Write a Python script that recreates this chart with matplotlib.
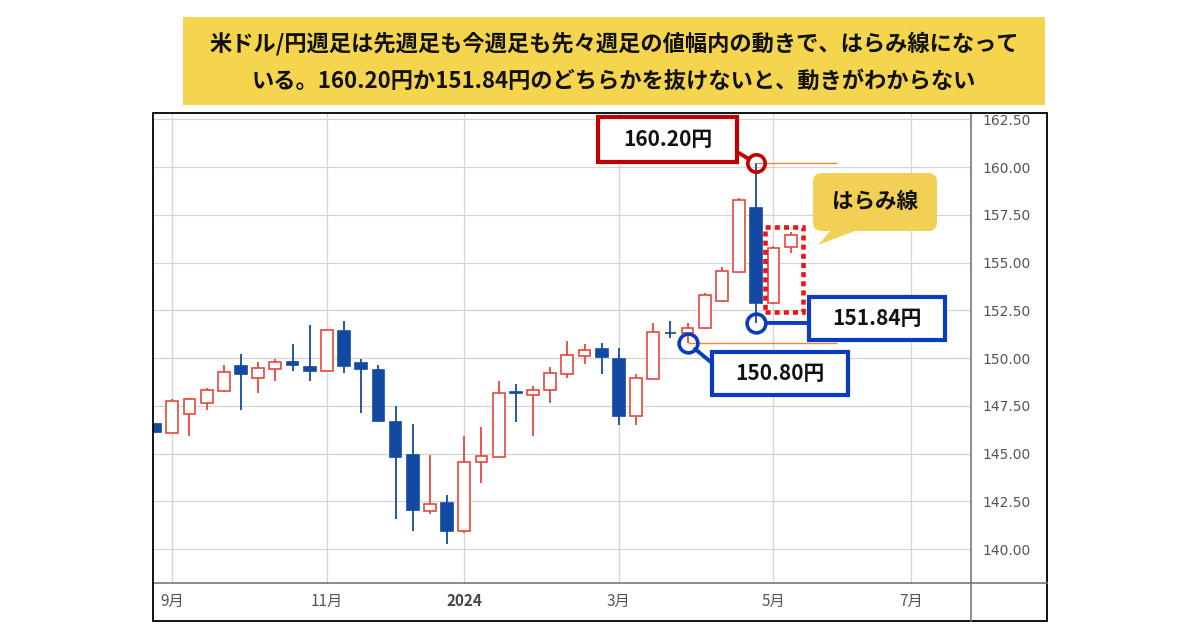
import numpy as np
import pandas as pd
import matplotlib
matplotlib.use("Agg")
import matplotlib.pyplot as plt
import matplotlib.dates as mdates
from matplotlib.patches import Rectangle, FancyBboxPatch, Polygon, ConnectionPatch
from matplotlib.lines import Line2D
from matplotlib.transforms import Bbox, TransformedBbox

plt.rcParams['font.family'] = ['Noto Sans CJK JP', 'DejaVu Sans']

# weekly USD/JPY candles (Monday of each week)
weeks = pd.date_range('2023-08-28', periods=38, freq='W-MON')
opens = [146.52, 146.07, 147.08, 147.67, 148.25, 149.58, 148.97, 149.41, 149.79, 149.53,
         149.32, 151.42, 149.74, 149.35, 146.66, 144.91, 141.98, 142.40, 140.96, 144.53,
         144.84, 148.20, 148.09, 148.30, 149.18, 150.09, 150.45, 149.93, 146.94, 148.90,
         151.33, 151.33, 151.57, 153.00, 154.49, 157.87, 152.87, 155.80]
highs = [146.60, 147.83, 147.92, 148.43, 149.65, 150.19, 149.79, 149.93, 150.75, 151.71,
         151.54, 151.92, 149.93, 149.65, 147.47, 146.52, 144.91, 142.81, 145.94, 146.38,
         148.78, 148.65, 148.55, 149.53, 150.89, 150.75, 150.80, 150.52, 149.14, 151.84,
         151.96, 151.84, 153.39, 154.79, 158.39, 160.20, 155.89, 156.59]
lows = [146.05, 146.05, 145.91, 147.29, 148.20, 147.29, 148.16, 148.81, 149.32, 148.81,
        149.30, 149.21, 147.12, 146.63, 141.59, 140.96, 141.84, 140.26, 140.82, 143.44,
        144.80, 146.63, 145.91, 147.64, 148.97, 149.70, 149.18, 146.47, 146.47, 148.88,
        151.07, 150.80, 151.50, 152.95, 154.45, 151.84, 152.85, 155.49]
closes = [146.12, 147.74, 147.83, 148.34, 149.28, 149.18, 149.49, 149.79, 149.62, 149.32,
          151.49, 149.56, 149.41, 146.70, 144.81, 142.05, 142.36, 140.96, 144.55, 144.86,
          148.18, 148.15, 148.34, 149.21, 150.16, 150.44, 150.05, 146.99, 148.97, 151.38,
          151.30, 151.59, 153.30, 154.58, 158.29, 152.87, 155.75, 156.45]

y_ticks = [140.0, 142.5, 145.0, 147.5, 150.0, 152.5, 155.0, 157.5, 160.0, 162.5]
month_ticks = ['2023-09-04', '2023-11-06', '2024-01-01', '2024-03-04', '2024-05-06', '2024-07-01']
month_labels = ['9月', '11月', '2024', '3月', '5月', '7月']

title_lines = ['米ドル/円週足は先週足も今週足も先々週足の値幅内の動きで、はらみ線になって',
               'いる。160.20円か151.84円のどちらかを抜けないと、動きがわからない']
peak_idx = 35      # 160.20 high / 151.84 low week
support_idx = 31   # 150.80 low week
line_end = '2024-06-01'

UP = '#E8473F'
DOWN = '#1249A3'
RED = '#C00000'
BLUE = '#0B3BBE'
YELLOW = '#F5D54E'

fig = plt.figure(figsize=(12, 6.3), dpi=100)
W, H = 1200, 630


def fx(x):
    return x / W


def fy(y):
    return 1 - y / H


def P(x, y):
    # pixel -> inches for fig.dpi_scale_trans
    return x / 100, (H - y) / 100


px = fig.dpi_scale_trans

# banner
fig.add_artist(Rectangle(P(183, 105), 8.62, 0.88, transform=px, fc=YELLOW, ec='none'))
fig.text(*P(614, 44), title_lines[0], transform=px, ha='center', va='center',
         fontsize=16, fontweight='bold', color='#111111')
fig.text(*P(614, 81), title_lines[1], transform=px, ha='center', va='center',
         fontsize=16, fontweight='bold', color='#111111')

ax = fig.add_axes([fx(153), fy(583), fx(971) - fx(153), fy(113) - fy(583)])

x = mdates.date2num(weeks)
o = np.array(opens)
h = np.array(highs)
l = np.array(lows)
c = np.array(closes)
up = c >= o
colors = np.where(up, UP, DOWN)

ax.vlines(x, l, h, colors=colors, linewidth=1.3, zorder=2)
ax.bar(x, np.abs(c - o), bottom=np.minimum(o, c), width=4.8,
       color=np.where(up, 'white', DOWN), edgecolor=colors, linewidth=1.2, zorder=3)

ax.set_xlim(mdates.date2num(pd.Timestamp('2023-08-27 03:00')),
            mdates.date2num(pd.Timestamp('2024-07-25 12:00')))
ax.set_ylim(138.22, 162.83)

ax.set_yticks(y_ticks)
ax.set_yticklabels([f'{v:.2f}' for v in y_ticks])
ax.set_xticks(mdates.date2num(pd.to_datetime(month_ticks)))
ax.set_xticklabels(month_labels)
ax.yaxis.tick_right()
ax.tick_params(axis='y', length=0, pad=8.4, labelsize=10, labelcolor='#555555')
ax.tick_params(axis='x', length=0, pad=7, labelsize=11, labelcolor='#555555')
clip = TransformedBbox(Bbox([[fx(971), fy(621)], [fx(1047), fy(114)]]), fig.transFigure)
for lab in ax.get_yticklabels():
    lab.set_fontfamily('DejaVu Sans')
    lab.set_clip_box(clip)
    lab.set_clip_on(True)
ax.get_xticklabels()[2].set_fontweight('bold')
ax.get_xticklabels()[2].set_color('#444444')

ax.grid(True, color='#d4d4d4', linewidth=0.9)
ax.set_axisbelow(True)
for side in ['left', 'top']:
    ax.spines[side].set_visible(False)
for side in ['right', 'bottom']:
    ax.spines[side].set_color('#777777')
    ax.spines[side].set_linewidth(1.2)

# outer frame and separators
fig.add_artist(Rectangle((fx(153), fy(621)), fx(1047) - fx(153), fy(113) - fy(621),
                         transform=fig.transFigure, fill=False, ec='black', lw=1.3))
fig.add_artist(Line2D([fx(971), fx(971)], [fy(583), fy(621)], color='#777777', lw=1.2))
fig.add_artist(Line2D([fx(971), fx(1047)], [fy(583), fy(583)], color='#777777', lw=1.2))

# reference lines
end = mdates.date2num(pd.Timestamp(line_end))
ax.hlines(h[peak_idx], x[peak_idx], end, color='#E58A3A', lw=1.0, zorder=4)
ax.hlines(l[support_idx], x[support_idx], end, color='#E58A3A', lw=1.0, zorder=4)

# harami dotted box around last two candles
bx0 = x[-2] - 3.4
bx1 = x[-1] + 5.0
by0 = l[-2:].min() - 0.45
by1 = h[-2:].max() + 0.27
ax.add_patch(Rectangle((bx0, by0), bx1 - bx0, by1 - by0, fill=False, ec='#E8161B',
                       lw=3.3, linestyle=(0, (1.1, 0.9)), zorder=5))

# circles
ax.plot(x[peak_idx], h[peak_idx], 'o', ms=12.5, mfc='none', mec=RED, mew=2.6, zorder=6, clip_on=False)
ax.plot(x[peak_idx], l[peak_idx], 'o', ms=13.5, mfc='none', mec=BLUE, mew=2.6, zorder=6, clip_on=False)
ax.plot(x[support_idx], l[support_idx], 'o', ms=13.5, mfc='none', mec=BLUE, mew=2.6, zorder=6, clip_on=False)


def label_box(x0, y0, x1, y1, text, ec):
    fig.add_artist(Rectangle(P(x0, y1), (x1 - x0) / 100, (y1 - y0) / 100, transform=px,
                             fc='white', ec=ec, lw=3.0, zorder=10))
    fig.text(*P((x0 + x1) / 2, (y0 + y1) / 2), text, transform=px, ha='center', va='center',
             fontsize=15, fontweight='bold', color='#111111', zorder=11)


def connector(xd, yd, x1, y1, color, shrink):
    fig.add_artist(ConnectionPatch((xd, yd), P(x1, y1), coordsA=ax.transData, coordsB=px,
                                   color=color, lw=2.8, shrinkA=shrink, shrinkB=0, zorder=9))


connector(x[peak_idx], h[peak_idx], 737, 152, RED, 6)
connector(x[peak_idx], l[peak_idx], 809, 323, BLUE, 7)
connector(x[support_idx], l[support_idx], 712, 363, BLUE, 7)

label_box(598, 117, 737, 162, f'{h[peak_idx]:.2f}円', RED)
label_box(809, 297, 945, 340, f'{l[peak_idx]:.2f}円', BLUE)
label_box(712, 352, 848, 395, f'{l[support_idx]:.2f}円', BLUE)

# speech bubble
fig.add_artist(FancyBboxPatch(P(813, 231), 1.24, 0.58, transform=px,
                              boxstyle='round,pad=0,rounding_size=0.09', fc='#F2D054', ec='none', zorder=10))
fig.add_artist(Polygon([P(832, 229), P(860, 229), P(818, 245)], closed=True, transform=px,
                       fc='#F2D054', ec='none', zorder=10))
fig.text(*P(875, 202), 'はらみ線', transform=px, ha='center', va='center',
         fontsize=15.5, fontweight='bold', color='#111111', zorder=11)

fig.savefig('out.png', dpi=100)
